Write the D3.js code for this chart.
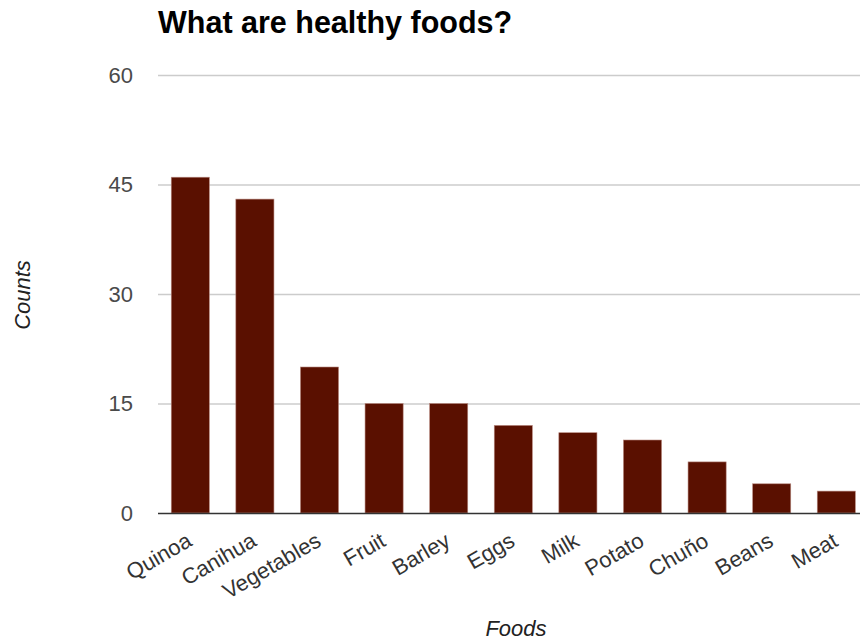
<!DOCTYPE html>
<html><head><meta charset="utf-8">
<script src="https://cdn.jsdelivr.net/npm/d3@7"></script>
<style>body{margin:0;background:#fff;}svg{display:block;}</style>
</head><body>
<svg id="chart" width="860" height="643"></svg>
<script>
const categories = ["Quinoa","Canihua","Vegetables","Fruit","Barley","Eggs","Milk","Potato","Chuño","Beans","Meat"];
const counts = [46,43,20,15,15,12,11,10,7,4,3];
const yTicks = [0,15,30,45,60];
const title = "What are healthy foods?";
const xTitle = "Foods";
const yTitle = "Counts";

(function(){
const svg = d3.select("#chart");
const font = "Liberation Sans, Arial, sans-serif";
const mLeft = 158, mRight = 868.6, mTop = 75, mBottom = 513;
const x = d3.scaleBand().domain(categories).range([mLeft, mRight]).paddingInner(0.41).paddingOuter(0.205);
const y = d3.scaleLinear().domain([0,60]).range([mBottom, mTop]);

// gridlines
svg.append("g").selectAll("line").data(yTicks.filter(t=>t>0)).join("line")
  .attr("x1", mLeft).attr("x2", 860)
  .attr("y1", d=>y(d)+0.5).attr("y2", d=>y(d)+0.5)
  .attr("stroke", "#cccccc").attr("stroke-width", 1.5);

// y labels
svg.append("g").selectAll("text").data(yTicks).join("text")
  .attr("x", 133).attr("y", d=>y(d)).attr("dy","0.36em")
  .attr("text-anchor","end")
  .attr("font-family",font).attr("font-size",22)
  .attr("fill","#4a4a4a").text(d=>d);

// bars
svg.append("g").selectAll("rect").data(categories).join("rect")
  .attr("x", d=>x(d)).attr("width", x.bandwidth())
  .attr("y", (d,i)=>y(counts[i])).attr("height", (d,i)=>y(0)-y(counts[i]))
  .attr("fill","#5a1000").attr("stroke","#b88a80").attr("stroke-width",0.6);

// baseline
svg.append("line").attr("x1", mLeft).attr("x2", 860).attr("y1", mBottom+0.5).attr("y2", mBottom+0.5)
  .attr("stroke","#333").attr("stroke-width",1.5);

// x labels
svg.append("g").selectAll("text").data(categories).join("text")
  .attr("transform", d=>`translate(${x(d)+x.bandwidth()/2+3},${mBottom+32}) rotate(-30)`)
  .attr("text-anchor","end")
  .attr("font-family",font).attr("font-size",22)
  .attr("fill","#333").text(d=>d);

// title
svg.append("text").attr("x",158).attr("y",33)
  .attr("font-family",font).attr("font-size",30.5).attr("font-weight","bold")
  .attr("fill","#000").text(title);

// axis titles
svg.append("text").attr("x",516).attr("y",636).attr("text-anchor","middle")
  .attr("font-family",font).attr("font-size",22).attr("font-style","italic")
  .attr("fill","#222").text(xTitle);
svg.append("text").attr("transform","translate(30,295) rotate(-90)").attr("text-anchor","middle")
  .attr("font-family",font).attr("font-size",22).attr("font-style","italic")
  .attr("fill","#222").text(yTitle);
})();
</script>
</body></html>
